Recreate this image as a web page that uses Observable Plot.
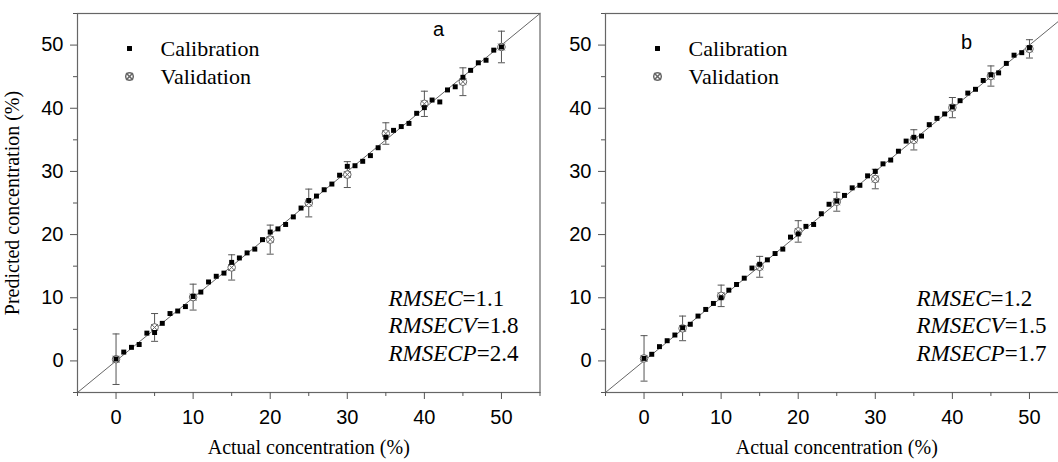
<!DOCTYPE html>
<html>
<head>
<meta charset="utf-8">
<script src="https://cdn.jsdelivr.net/npm/d3@7"></script>
<script src="https://cdn.jsdelivr.net/npm/@observablehq/plot@0.6"></script>
<style>
  html, body { margin: 0; padding: 0; background: #fff; overflow: hidden; }
  #wrap { display: flex; width: 1058px; height: 462px; overflow: hidden; }
  svg { flex: none; }
  g.serif text, g.serif tspan { font-family: "Liberation Serif", "Times New Roman", serif !important; }
  g.sans text { font-family: "Liberation Sans", Arial, sans-serif !important; }
</style>
</head>
<body>
<div id="wrap"></div>
<script>
// ---------- data ----------
const calX = [0,1,2,3,4,5,6,7,8,9,10,11,12,13,14,15,16,17,18,19,20,21,22,23,24,25,26,27,28,29,30,31,32,33,34,35,36,37,38,39,40,41,42,43,44,45,46,47,48,49,50];
const calA = [0.3,1.4,2.15,2.6,4.4,4.5,5.95,7.5,7.9,8.6,10.2,10.9,12.5,13.4,13.9,15.6,16.3,17.1,17.7,19.2,20.4,20.9,21.6,22.8,24.2,25.4,26.1,27.1,28.0,29.4,30.8,30.9,31.6,32.5,33.75,35.4,36.5,37.1,37.6,39.2,40.1,41.3,41.0,42.9,43.4,44.9,46.0,47.2,47.6,49.2,49.7];
const calB = [0.4,1.05,2.26,3.2,4.1,5.25,5.8,7.1,8.15,9.1,10.0,11.2,12.1,13.1,14.7,15.3,16.0,17.0,17.7,19.6,20.1,21.3,21.6,23.3,24.8,25.3,26.2,27.4,27.8,29.3,30.0,31.2,31.8,33.2,34.8,35.4,35.6,37.4,38.4,39.1,40.2,41.2,42.4,43.0,44.4,45.3,45.6,47.1,48.4,48.8,49.6];
const valX = [0,5,10,15,20,25,30,35,40,45,50];
const valA = [0.27,5.3,10.1,14.8,19.2,25.0,29.5,36.0,40.7,44.2,49.7];
const errA = [4.0,2.2,2.05,2.0,2.3,2.2,2.05,1.7,2.0,2.2,2.5];
const valB = [0.4,5.15,10.3,14.9,20.5,25.2,28.8,35.0,40.1,45.1,49.4];
const errB = [3.6,1.95,1.7,1.65,1.7,1.5,1.55,1.6,1.6,1.6,1.45];
const axisDomain = [-5, 55];
const majorTicks = [0,10,20,30,40,50];
const minorTicks = [-5,5,15,25,35,45,55];
const legendLabels = ["Calibration", "Validation"];
const statsA = ["RMSEC=1.1", "RMSECV=1.8", "RMSECP=2.4"];
const statsB = ["RMSEC=1.2", "RMSECV=1.5", "RMSECP=1.7"];
const panelLetters = ["a", "b"];
const xLabel = "Actual concentration (%)";
const yLabel = "Predicted concentration (%)";

// ---------- drawing ----------
const capSymbol = {draw(ctx, size) { const w = Math.sqrt(size / Math.PI); ctx.moveTo(-w, 0); ctx.lineTo(w, 0); }};

function panel({cal, val, err, stats, letter, letterDy, width, marginLeft, showYLabel}) {
  const calData = calX.map((x, i) => ({x, y: cal[i]}));
  const valData = valX.map((x, i) => ({x, y: val[i], lo: val[i] - err[i], hi: val[i] + err[i]}));
  const marks = [
    Plot.line(axisDomain, {x: d => d, y: d => d, stroke: "#666", strokeWidth: 1}),
    Plot.ruleX(valData, {x: "x", y1: "lo", y2: "hi", stroke: "#555", strokeWidth: 1}),
    Plot.dot(valData, {x: "x", y: "lo", symbol: capSymbol, r: 3.5, stroke: "#555", strokeWidth: 1}),
    Plot.dot(valData, {x: "x", y: "hi", symbol: capSymbol, r: 3.5, stroke: "#555", strokeWidth: 1}),
    Plot.dot(valData, {x: "x", y: "y", symbol: "circle", r: 3.8, stroke: "#666", fill: "white", strokeWidth: 1}),
    Plot.dot(valData, {x: "x", y: "y", symbol: "times", r: 3.2, stroke: "#666", strokeWidth: 1}),
    Plot.dot(calData, {x: "x", y: "y", symbol: "square", r: 2.8, fill: "black"}),
    Plot.frame({stroke: "#666", strokeWidth: 1.2}),
    Plot.axisX(majorTicks, {tickSize: 7, tickPadding: 10, stroke: "#555", fontSize: 20, label: null, className: "sans"}),
    Plot.axisX(minorTicks, {tickSize: 4, stroke: "#555", tickFormat: () => "", label: null}),
    Plot.axisY(majorTicks, {tickSize: 7, tickPadding: 7, stroke: "#555", fontSize: 20, label: null, className: "sans"}),
    Plot.axisY(minorTicks, {tickSize: 4, stroke: "#555", tickFormat: () => "", label: null}),
    // legend
    Plot.dot([legendLabels[0]], {frameAnchor: "top-left", dx: 52, dy: 35, symbol: "square", r: 2.8, fill: "black"}),
    Plot.dot([legendLabels[1]], {frameAnchor: "top-left", dx: 52, dy: 63, symbol: "circle", r: 3.8, stroke: "#666", fill: "white"}),
    Plot.dot([legendLabels[1]], {frameAnchor: "top-left", dx: 52, dy: 63, symbol: "times", r: 3.2, stroke: "#666"}),
    Plot.text([legendLabels[0]], {frameAnchor: "top-left", dx: 83, dy: 35, text: d => d, textAnchor: "start", lineAnchor: "middle", fontSize: 22, className: "serif"}),
    Plot.text([legendLabels[1]], {frameAnchor: "top-left", dx: 83, dy: 63, text: d => d, textAnchor: "start", lineAnchor: "middle", fontSize: 22, className: "serif"}),
    // panel letter
    Plot.text([letter], {frameAnchor: "top-left", dx: 361, dy: letterDy, text: d => d, textAnchor: "middle", lineAnchor: "middle", fontSize: 20, className: "sans"}),
    // stats
    ...stats.map((s, i) => Plot.text([s], {frameAnchor: "top-left", dx: 311, dy: 285 + i * 27.5, text: d => d, textAnchor: "start", lineAnchor: "middle", fontSize: 23, className: "serif stat"})),
    // x label
    Plot.text([xLabel], {frameAnchor: "bottom", dy: 55, text: d => d, textAnchor: "middle", lineAnchor: "middle", fontSize: 20, className: "serif"})
  ];
  if (showYLabel) {
    marks.push(Plot.text([yLabel], {frameAnchor: "left", dx: -65, rotate: -90, text: d => d, textAnchor: "middle", lineAnchor: "middle", fontSize: 20, className: "serif"}));
  }
  const svg = Plot.plot({
    width, height: 462,
    marginLeft, marginRight: width - marginLeft - 462.5, marginTop: 13, marginBottom: 70,
    x: {domain: axisDomain},
    y: {domain: axisDomain},
    style: {fontSize: "20px", color: "#000", background: "white", overflow: "visible"},
    marks
  });
  // italic variable names in stats
  d3.select(svg).selectAll(".stat text").each(function() {
    const t = this.textContent; const k = t.indexOf("=");
    const el = d3.select(this); el.text(null);
    el.append("tspan").attr("font-style", "italic").text(t.slice(0, k));
    el.append("tspan").text(t.slice(k));
  });
  return svg;
}

const wrap = document.getElementById("wrap");
wrap.appendChild(panel({cal: calA, val: valA, err: errA, stats: statsA, letter: panelLetters[0], letterDy: 16, width: 548, marginLeft: 77, showYLabel: true}));
wrap.appendChild(panel({cal: calB, val: valB, err: errB, stats: statsB, letter: panelLetters[1], letterDy: 29, width: 528, marginLeft: 57, showYLabel: false}));
</script>
</body>
</html>
